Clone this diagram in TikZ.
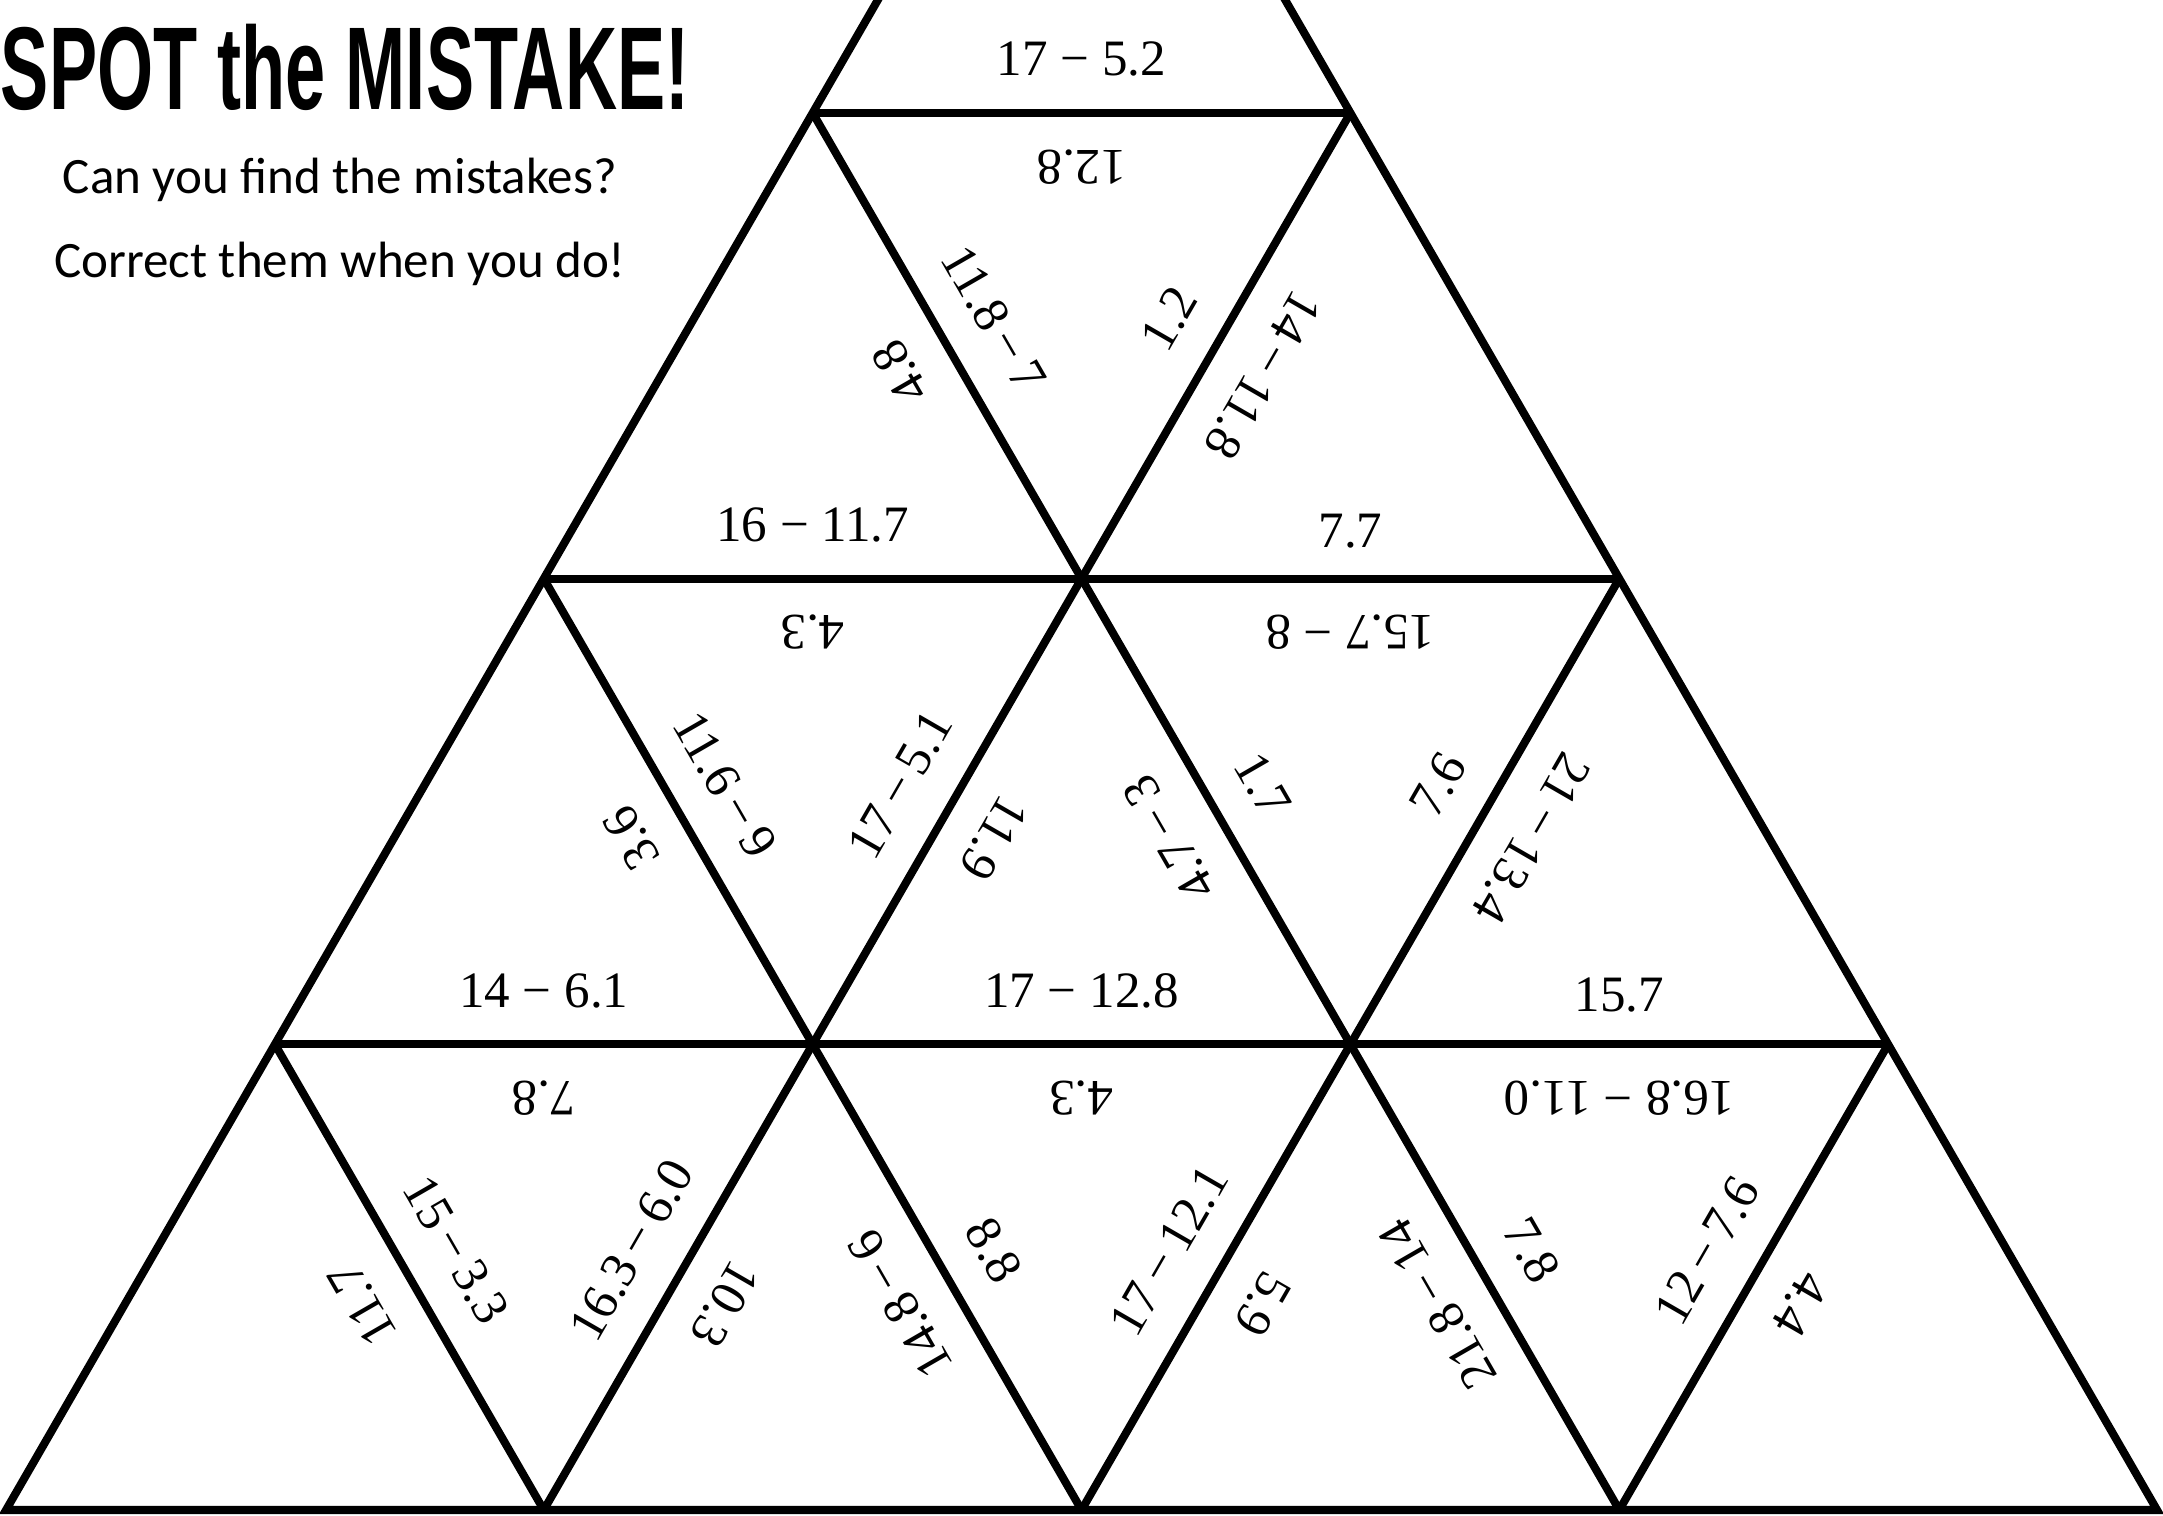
\documentclass[tikz,border=0pt]{standalone}
\usepackage{graphicx}
\usepackage{fontspec}
\setmainfont{Liberation Serif}
\newfontfamily\calibri{Carlito}
\newfontfamily\headfont{Liberation Sans}

\begin{document}
\begin{tikzpicture}[x=4cm, y=4cm,
    tri/.style={line width=1.7pt},
    num/.style={font=\fontsize{10.8}{12}\selectfont, inner sep=0pt},
    head/.style={inner sep=0pt, anchor=base west},
    note/.style={font=\calibri\fontsize{10.8}{13}\selectfont, inner sep=0pt, anchor=base}
  ]
  \useasboundingbox (-0.0112,-0.0093) rectangle (4.0111,2.808);
  \clip (-0.0112,-0.0093) rectangle (4.0111,2.808);

  \node[head] (title) at (-0.0112,2.6035) {\resizebox{5.12cm}{0.635cm}{\headfont\bfseries SPOT the MISTAKE!}};
  \node[note] (ask) at (0.621,2.449) {Can you find the mistakes?};
  \node[note] (tip) at (0.621,2.291) {Correct them when you do!};

  % corners of the grid
  \coordinate (a0) at (0,0);
  \coordinate (a1) at (1,0);
  \coordinate (a2) at (2,0);
  \coordinate (a3) at (3,0);
  \coordinate (a4) at (4,0);
  \coordinate (b0) at (0.5,0.866);
  \coordinate (b3) at (3.5,0.866);
  \coordinate (c0) at (1,1.732);
  \coordinate (c2) at (3,1.732);
  \coordinate (d0) at (1.5,2.598);
  \coordinate (d1) at (2.5,2.598);
  \coordinate (e) at (2,3.464);

  \draw[tri] (a0) -- (e) -- (a4) -- cycle;
  \draw[tri] (b0) -- (b3);
  \draw[tri] (c0) -- (c2);
  \draw[tri] (d0) -- (d1);
  \draw[tri] (a1) -- (d1);
  \draw[tri] (a2) -- (c2);
  \draw[tri] (a3) -- (b3);
  \draw[tri] (a3) -- (d0);
  \draw[tri] (a2) -- (c0);
  \draw[tri] (a1) -- (b0);

  % top strip
  \node[num] (n52) at (2,2.698) {17 − 5.2};
  \node[num, rotate=180] (n128) at (2,2.498) {12.8};
  % upper row
  \node[num, rotate=120] (n48) at (1.663,2.115) {4.8};
  \node[num, rotate=-60] (n118) at (1.837,2.215) {11.8\,−\,7};
  \node[num, rotate=60] (n12) at (2.163,2.215) {1.2};
  \node[num, rotate=-120] (n14) at (2.337,2.110) {14\,−\,11.8};
  \node[num] (n117) at (1.5,1.832) {16 − 11.7};
  \node[num] (n77) at (2.5,1.82) {7.7};
  % middle row
  \node[num, rotate=180] (n43a) at (1.5,1.632) {4.3};
  \node[num, rotate=180] (n157) at (2.5,1.632) {15.7 − 8};
  \node[num, rotate=120] (n36) at (1.163,1.249) {3.6};
  \node[num, rotate=-60] (n116) at (1.337,1.349) {11.6\,−\,9};
  \node[num, rotate=60] (n51) at (1.663,1.349) {17\,−\,5.1};
  \node[num, rotate=-120] (n119) at (1.837,1.249) {11.9};
  \node[num, rotate=120] (n47) at (2.163,1.249) {4.7\,−\,3};
  \node[num, rotate=-60] (n17) at (2.337,1.349) {1.7};
  \node[num, rotate=60] (n76) at (2.663,1.349) {7.6};
  \node[num, rotate=-120] (n134) at (2.837,1.249) {21\,−\,13.4};
  \node[num] (n61) at (1,0.966) {14 − 6.1};
  \node[num] (n128b) at (2,0.966) {17 − 12.8};
  \node[num] (n157b) at (3,0.958) {15.7};
  % bottom row
  \node[num, rotate=180] (n78a) at (1,0.766) {7.8};
  \node[num, rotate=180] (n43b) at (2,0.766) {4.3};
  \node[num, rotate=180] (n110) at (3,0.766) {16.8 − 11.0};
  \node[num, rotate=120] (n117b) at (0.663,0.383) {11.7};
  \node[num, rotate=-60] (n33) at (0.837,0.483) {15\,−\,3.3};
  \node[num, rotate=60] (n60) at (1.163,0.483) {16.3\,−\,6.0};
  \node[num, rotate=-120] (n103) at (1.337,0.383) {10.3};
  \node[num, rotate=120] (n148) at (1.663,0.383) {14.8\,−\,6};
  \node[num, rotate=-60] (n88) at (1.837,0.483) {8.8};
  \node[num, rotate=60] (n121) at (2.163,0.483) {17\,−\,12.1};
  \node[num, rotate=-120] (n59) at (2.337,0.383) {5.9};
  \node[num, rotate=120] (n218) at (2.663,0.383) {21.8\,−\,14};
  \node[num, rotate=-60] (n78b) at (2.837,0.483) {7.8};
  \node[num, rotate=60] (n126) at (3.163,0.483) {12\,−\,7.6};
  \node[num, rotate=-120] (n44) at (3.337,0.383) {4.4};
\end{tikzpicture}
\end{document}
